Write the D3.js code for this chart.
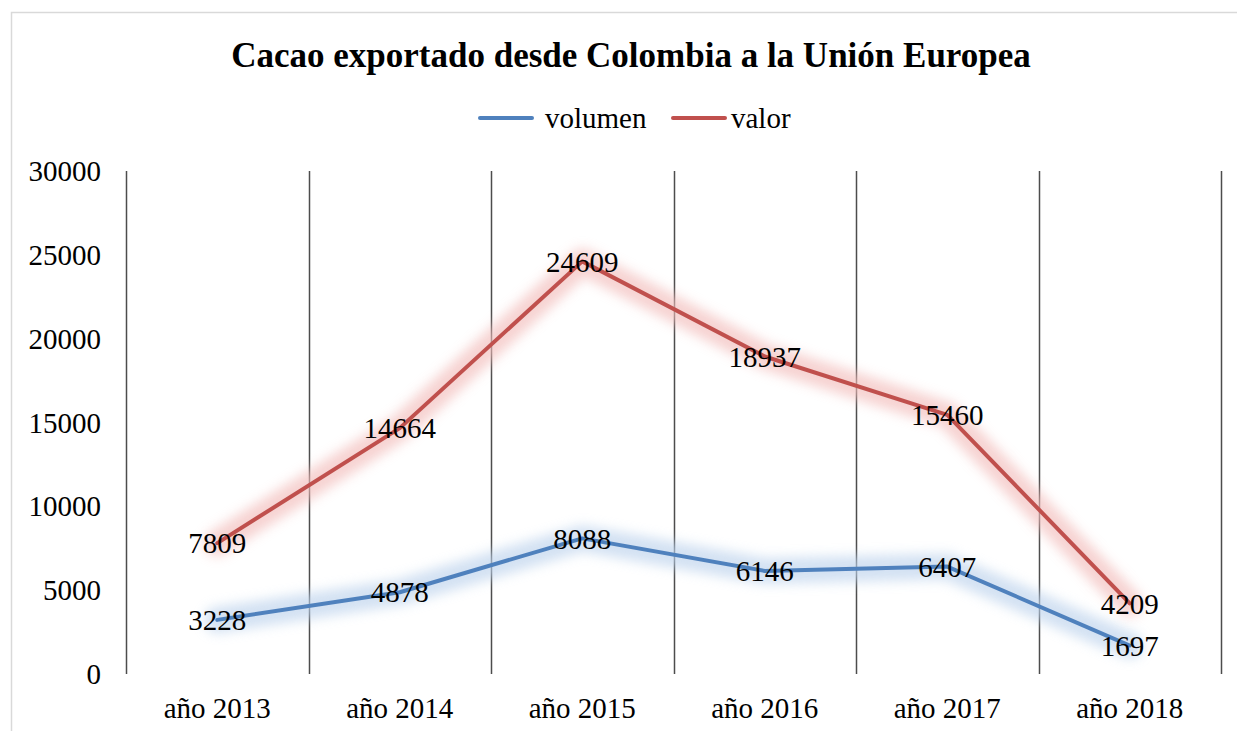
<!DOCTYPE html>
<html>
<head>
<meta charset="utf-8">
<script src="https://cdn.jsdelivr.net/npm/d3@7"></script>
<style>
  body { margin: 0; background: #fff; }
  text { font-family: "Liberation Serif", "Times New Roman", serif; fill: #000; }
</style>
</head>
<body>
<div id="chart"></div>
<script>
// Chart data
const years = ["año 2013", "año 2014", "año 2015", "año 2016", "año 2017", "año 2018"];
const volumen = [3228, 4878, 8088, 6146, 6407, 1697];
const valor = [7809, 14664, 24609, 18937, 15460, 4209];
const yTicks = [0, 5000, 10000, 15000, 20000, 25000, 30000];

const width = 1237, height = 731;
const margin = {left: 126, right: 16, top: 171, bottom: 57};

let svg = d3.select("#chart")
    .append("svg")
    .attr("width", width)
    .attr("height", height);

// Soft glow behind the lines
let defs = svg.append("defs");
defs.append("filter")
    .attr("id", "glow")
    .attr("x", "-20%").attr("y", "-50%")
    .attr("width", "140%").attr("height", "200%")
    .append("feGaussianBlur")
    .attr("stdDeviation", 6);

// Outer border (only top and left visible in the reference)
svg.append("rect")
    .attr("x", 11.5).attr("y", 12.5)
    .attr("width", 1240).attr("height", 740)
    .attr("fill", "none")
    .attr("stroke", "#d9d9d9")
    .attr("stroke-width", 1.5);

let x = d3.scaleBand()
    .domain(years)
    .range([margin.left, width - margin.right]);

let y = d3.scaleLinear()
    .domain([0, 30000])
    .range([height - margin.bottom, margin.top]);

// Category divider lines
let edges = years.map(d => x(d)).concat([x.range()[1]]);
svg.append("g")
    .selectAll("line")
    .data(edges)
    .enter()
    .append("line")
    .attr("x1", d => Math.round(d) + 0.5).attr("x2", d => Math.round(d) + 0.5)
    .attr("y1", y(30000)).attr("y2", y(0))
    .attr("stroke", "#4d4d4d")
    .attr("stroke-width", 1.5);

// Y axis labels
svg.append("g")
    .selectAll("text")
    .data(yTicks)
    .enter()
    .append("text")
    .attr("x", 101)
    .attr("y", d => y(d))
    .attr("dy", "0.35em")
    .style("text-anchor", "end")
    .style("font-size", "29px")
    .text(d => d);

// X axis labels
svg.append("g")
    .selectAll("text")
    .data(years)
    .enter()
    .append("text")
    .attr("x", d => x(d) + x.bandwidth() / 2)
    .attr("y", 718)
    .style("text-anchor", "middle")
    .style("font-size", "29px")
    .text(d => d);

let line = d3.line()
    .x((d, i) => x(years[i]) + x.bandwidth() / 2)
    .y(d => y(d));

let series = [
    {name: "volumen", values: volumen, color: "#4f81bd", glow: "#bcd2ec"},
    {name: "valor", values: valor, color: "#c0504d", glow: "#f2bcba"}
];

series.forEach(function(s) {
    svg.append("path")
        .attr("d", line(s.values))
        .attr("fill", "none")
        .attr("stroke", s.glow)
        .attr("stroke-width", 26)
        .attr("stroke-linejoin", "round")
        .attr("stroke-linecap", "round")
        .attr("opacity", 0.65)
        .attr("filter", "url(#glow)");
});

series.forEach(function(s) {
    svg.append("path")
        .attr("d", line(s.values))
        .attr("fill", "none")
        .attr("stroke", s.color)
        .attr("stroke-width", 4)
        .attr("stroke-linejoin", "round")
        .attr("stroke-linecap", "round");
});

// Data labels centered on points
series.forEach(function(s) {
    svg.append("g")
        .selectAll("text")
        .data(s.values)
        .enter()
        .append("text")
        .attr("x", (d, i) => x(years[i]) + x.bandwidth() / 2)
        .attr("y", d => y(d))
        .attr("dy", "0.35em")
        .style("text-anchor", "middle")
        .style("font-size", "29px")
        .text(d => d);
});

// Title
svg.append("text")
    .attr("x", 631)
    .attr("y", 67)
    .style("text-anchor", "middle")
    .style("font-size", "35px")
    .style("font-weight", "bold")
    .text("Cacao exportado desde Colombia a la Unión Europea");

// Legend
let legend = svg.append("g");
let legendItems = [
    {name: "volumen", color: "#4f81bd", x0: 480, tx: 545},
    {name: "valor", color: "#c0504d", x0: 673, tx: 731}
];
legendItems.forEach(function(l) {
    legend.append("line")
        .attr("x1", l.x0).attr("x2", l.x0 + 52)
        .attr("y1", 118).attr("y2", 118)
        .attr("stroke", l.color)
        .attr("stroke-width", 4)
        .attr("stroke-linecap", "round");
    legend.append("text")
        .attr("x", l.tx)
        .attr("y", 118)
        .attr("dy", "0.35em")
        .style("font-size", "29px")
        .text(l.name);
});
</script>
</body>
</html>
